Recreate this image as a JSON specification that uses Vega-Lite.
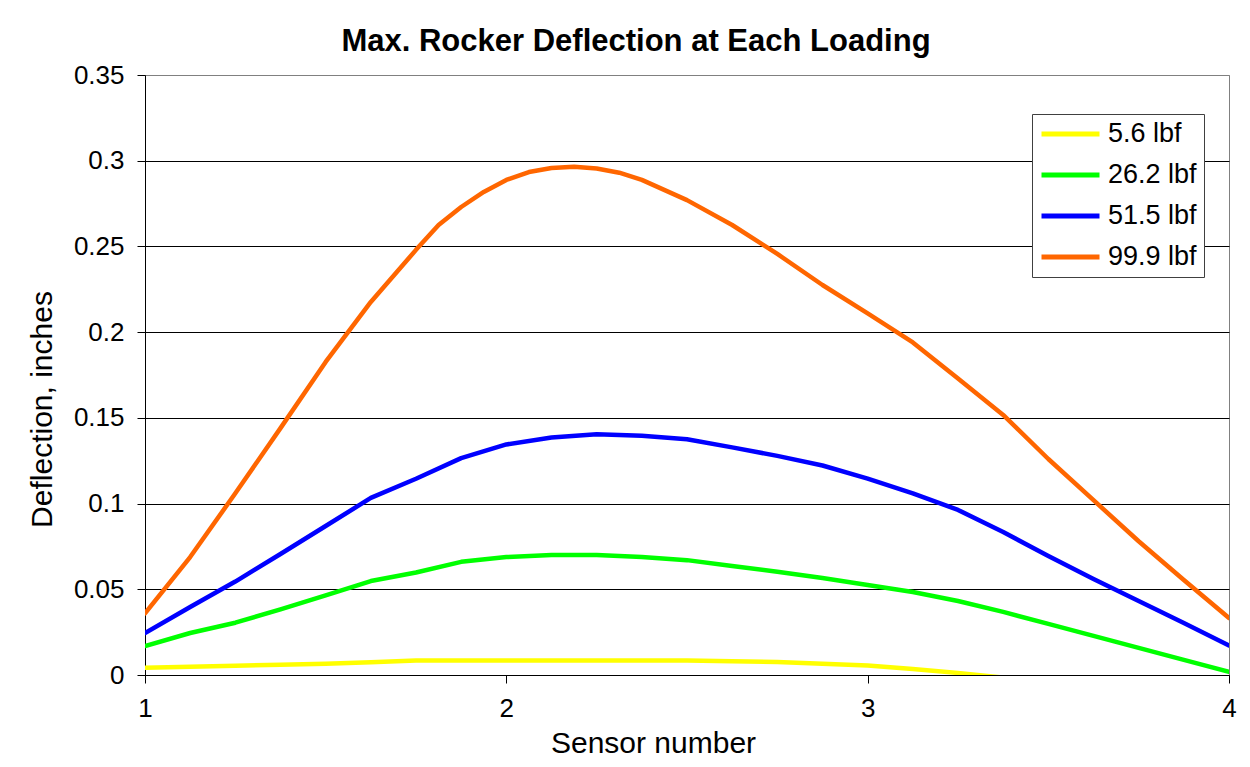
{
  "$schema": "https://vega.github.io/schema/vega-lite/v6.json",
  "width": 1084,
  "height": 600,
  "autosize": {"type": "none"},
  "padding": {"left": 145, "top": 75, "right": 21, "bottom": 92},
  "background": "white",
  "config": {
    "font": "Liberation Sans",
    "view": {"stroke": "#808080", "strokeWidth": 1}
  },
  "title": {
    "text": "Max. Rocker Deflection at Each Loading",
    "fontSize": 31,
    "fontWeight": "bold",
    "color": "#000000",
    "anchor": "middle",
    "frame": "group",
    "baseline": "alphabetic",
    "dx": -51,
    "dy": 30,
    "offset": 10
  },
  "data": {
    "values": [
      {"s": 1.0, "load": "5.6 lbf", "d": 0.0042},
      {"s": 1.125, "load": "5.6 lbf", "d": 0.0048},
      {"s": 1.25, "load": "5.6 lbf", "d": 0.0054},
      {"s": 1.375, "load": "5.6 lbf", "d": 0.006},
      {"s": 1.5, "load": "5.6 lbf", "d": 0.0066},
      {"s": 1.625, "load": "5.6 lbf", "d": 0.0075},
      {"s": 1.75, "load": "5.6 lbf", "d": 0.0085},
      {"s": 1.875, "load": "5.6 lbf", "d": 0.0085},
      {"s": 2.0, "load": "5.6 lbf", "d": 0.0085},
      {"s": 2.125, "load": "5.6 lbf", "d": 0.0085},
      {"s": 2.25, "load": "5.6 lbf", "d": 0.0085},
      {"s": 2.375, "load": "5.6 lbf", "d": 0.0085},
      {"s": 2.5, "load": "5.6 lbf", "d": 0.0085},
      {"s": 2.625, "load": "5.6 lbf", "d": 0.008},
      {"s": 2.75, "load": "5.6 lbf", "d": 0.0076},
      {"s": 2.875, "load": "5.6 lbf", "d": 0.0066},
      {"s": 3.0, "load": "5.6 lbf", "d": 0.0055},
      {"s": 3.125, "load": "5.6 lbf", "d": 0.0035},
      {"s": 3.25, "load": "5.6 lbf", "d": 0.0012},
      {"s": 3.375, "load": "5.6 lbf", "d": -0.0015},
      {"s": 3.5, "load": "5.6 lbf", "d": -0.0028},
      {"s": 3.625, "load": "5.6 lbf", "d": -0.004},
      {"s": 3.75, "load": "5.6 lbf", "d": -0.005},
      {"s": 3.875, "load": "5.6 lbf", "d": -0.006},
      {"s": 4.0, "load": "5.6 lbf", "d": -0.007},

      {"s": 1.0, "load": "26.2 lbf", "d": 0.0169},
      {"s": 1.125, "load": "26.2 lbf", "d": 0.0245},
      {"s": 1.25, "load": "26.2 lbf", "d": 0.0305},
      {"s": 1.375, "load": "26.2 lbf", "d": 0.0383},
      {"s": 1.5, "load": "26.2 lbf", "d": 0.0465},
      {"s": 1.625, "load": "26.2 lbf", "d": 0.0548},
      {"s": 1.75, "load": "26.2 lbf", "d": 0.0598},
      {"s": 1.875, "load": "26.2 lbf", "d": 0.066},
      {"s": 2.0, "load": "26.2 lbf", "d": 0.0688},
      {"s": 2.125, "load": "26.2 lbf", "d": 0.07},
      {"s": 2.25, "load": "26.2 lbf", "d": 0.07},
      {"s": 2.375, "load": "26.2 lbf", "d": 0.0688},
      {"s": 2.5, "load": "26.2 lbf", "d": 0.067},
      {"s": 2.625, "load": "26.2 lbf", "d": 0.0636},
      {"s": 2.75, "load": "26.2 lbf", "d": 0.0602},
      {"s": 2.875, "load": "26.2 lbf", "d": 0.0566},
      {"s": 3.0, "load": "26.2 lbf", "d": 0.0525},
      {"s": 3.125, "load": "26.2 lbf", "d": 0.0484},
      {"s": 3.25, "load": "26.2 lbf", "d": 0.0432},
      {"s": 3.375, "load": "26.2 lbf", "d": 0.0368},
      {"s": 3.5, "load": "26.2 lbf", "d": 0.0298},
      {"s": 3.625, "load": "26.2 lbf", "d": 0.0228},
      {"s": 3.75, "load": "26.2 lbf", "d": 0.0158},
      {"s": 3.875, "load": "26.2 lbf", "d": 0.0088},
      {"s": 4.0, "load": "26.2 lbf", "d": 0.0018},

      {"s": 1.0, "load": "51.5 lbf", "d": 0.0245},
      {"s": 1.125, "load": "51.5 lbf", "d": 0.0397},
      {"s": 1.25, "load": "51.5 lbf", "d": 0.0545},
      {"s": 1.375, "load": "51.5 lbf", "d": 0.0706},
      {"s": 1.5, "load": "51.5 lbf", "d": 0.0869},
      {"s": 1.625, "load": "51.5 lbf", "d": 0.1033},
      {"s": 1.75, "load": "51.5 lbf", "d": 0.1145},
      {"s": 1.875, "load": "51.5 lbf", "d": 0.1265},
      {"s": 2.0, "load": "51.5 lbf", "d": 0.1345},
      {"s": 2.125, "load": "51.5 lbf", "d": 0.1385},
      {"s": 2.25, "load": "51.5 lbf", "d": 0.1405},
      {"s": 2.375, "load": "51.5 lbf", "d": 0.1395},
      {"s": 2.5, "load": "51.5 lbf", "d": 0.1375},
      {"s": 2.625, "load": "51.5 lbf", "d": 0.1328},
      {"s": 2.75, "load": "51.5 lbf", "d": 0.1278},
      {"s": 2.875, "load": "51.5 lbf", "d": 0.1222},
      {"s": 3.0, "load": "51.5 lbf", "d": 0.1145},
      {"s": 3.125, "load": "51.5 lbf", "d": 0.106},
      {"s": 3.25, "load": "51.5 lbf", "d": 0.0963},
      {"s": 3.375, "load": "51.5 lbf", "d": 0.0834},
      {"s": 3.5, "load": "51.5 lbf", "d": 0.0694},
      {"s": 3.625, "load": "51.5 lbf", "d": 0.056},
      {"s": 3.75, "load": "51.5 lbf", "d": 0.0432},
      {"s": 3.875, "load": "51.5 lbf", "d": 0.0303},
      {"s": 4.0, "load": "51.5 lbf", "d": 0.0172},

      {"s": 1.0, "load": "99.9 lbf", "d": 0.036},
      {"s": 1.125, "load": "99.9 lbf", "d": 0.0688},
      {"s": 1.25, "load": "99.9 lbf", "d": 0.106},
      {"s": 1.375, "load": "99.9 lbf", "d": 0.144},
      {"s": 1.5, "load": "99.9 lbf", "d": 0.1826},
      {"s": 1.625, "load": "99.9 lbf", "d": 0.2176},
      {"s": 1.75, "load": "99.9 lbf", "d": 0.248},
      {"s": 1.8125, "load": "99.9 lbf", "d": 0.2625},
      {"s": 1.875, "load": "99.9 lbf", "d": 0.273},
      {"s": 1.9375, "load": "99.9 lbf", "d": 0.2818},
      {"s": 2.0, "load": "99.9 lbf", "d": 0.2888},
      {"s": 2.0625, "load": "99.9 lbf", "d": 0.2934},
      {"s": 2.125, "load": "99.9 lbf", "d": 0.2958},
      {"s": 2.1875, "load": "99.9 lbf", "d": 0.2965},
      {"s": 2.25, "load": "99.9 lbf", "d": 0.2955},
      {"s": 2.3125, "load": "99.9 lbf", "d": 0.293},
      {"s": 2.375, "load": "99.9 lbf", "d": 0.2888},
      {"s": 2.5, "load": "99.9 lbf", "d": 0.277},
      {"s": 2.625, "load": "99.9 lbf", "d": 0.2625},
      {"s": 2.75, "load": "99.9 lbf", "d": 0.2456},
      {"s": 2.875, "load": "99.9 lbf", "d": 0.2275},
      {"s": 3.0, "load": "99.9 lbf", "d": 0.211},
      {"s": 3.125, "load": "99.9 lbf", "d": 0.194},
      {"s": 3.25, "load": "99.9 lbf", "d": 0.173},
      {"s": 3.375, "load": "99.9 lbf", "d": 0.1517},
      {"s": 3.5, "load": "99.9 lbf", "d": 0.126},
      {"s": 3.625, "load": "99.9 lbf", "d": 0.102},
      {"s": 3.75, "load": "99.9 lbf", "d": 0.078},
      {"s": 3.875, "load": "99.9 lbf", "d": 0.0554},
      {"s": 4.0, "load": "99.9 lbf", "d": 0.0333}
    ]
  },
  "mark": {"type": "line", "strokeWidth": 4.5, "strokeCap": "round", "strokeJoin": "round", "clip": true},
  "encoding": {
    "x": {
      "field": "s",
      "type": "quantitative",
      "scale": {"domain": [1, 4], "nice": false, "zero": false},
      "axis": {
        "title": "Sensor number",
        "values": [1, 2, 3, 4],
        "format": "d",
        "grid": false,
        "labelFlush": false,
        "domainColor": "#000000",
        "domainWidth": 1,
        "tickColor": "#000000",
        "tickSize": 8,
        "labelFontSize": 26,
        "labelColor": "#000000",
        "labelPadding": 12,
        "titleFontSize": 30,
        "titleFontWeight": "normal",
        "titleColor": "#000000",
        "titleX": 508,
        "titleY": 77,
        "titleBaseline": "alphabetic",
        "titleAlign": "center"
      }
    },
    "y": {
      "field": "d",
      "type": "quantitative",
      "scale": {"domain": [0, 0.35], "nice": false},
      "axis": {
        "title": "Deflection, inches",
        "values": [0, 0.05, 0.1, 0.15, 0.2, 0.25, 0.3, 0.35],
        "format": "~g",
        "grid": true,
        "labelFlush": false,
        "gridColor": {"condition": {"test": "datum.value >= 0.35", "value": "#808080"}, "value": "#000000"},
        "gridWidth": 1,
        "domainColor": "#000000",
        "domainWidth": 1,
        "tickColor": "#000000",
        "tickSize": 8,
        "labelFontSize": 26,
        "labelColor": "#000000",
        "labelPadding": 13,
        "titleFontSize": 30,
        "titleFontWeight": "normal",
        "titleColor": "#000000",
        "titleAngle": -90,
        "titleX": -103,
        "titleY": 334,
        "titleBaseline": "middle",
        "titleAlign": "center"
      }
    },
    "color": {
      "field": "load",
      "type": "nominal",
      "sort": ["5.6 lbf", "26.2 lbf", "51.5 lbf", "99.9 lbf"],
      "scale": {
        "domain": ["5.6 lbf", "26.2 lbf", "51.5 lbf", "99.9 lbf"],
        "range": ["#FFFF00", "#00FF00", "#0000FF", "#FF6600"]
      },
      "legend": {
        "title": null,
        "orient": "none",
        "legendX": 887,
        "legendY": 39,
        "direction": "vertical",
        "fillColor": "#FFFFFF",
        "strokeColor": "#404040",
        "padding": 7,
        "symbolType": "stroke",
        "symbolSize": 3364,
        "symbolStrokeWidth": 5,
        "labelFontSize": 27,
        "labelColor": "#000000",
        "labelOffset": 6,
        "rowPadding": 14,
        "clipHeight": 26
      }
    }
  }
}
